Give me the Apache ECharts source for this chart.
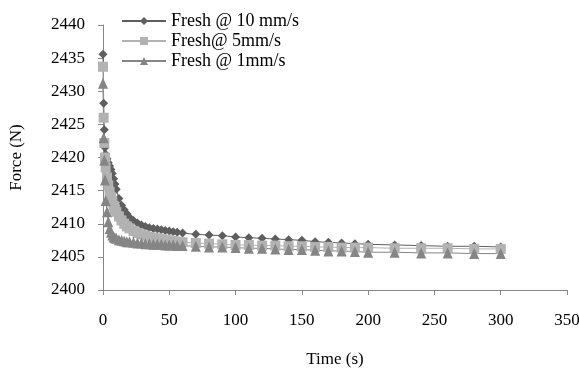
<!DOCTYPE html>
<html>
<head>
<meta charset="utf-8">
<script src="https://cdn.jsdelivr.net/npm/echarts@6/dist/echarts.min.js"></script>
<style>
  html, body { margin: 0; padding: 0; background: #fff; }
  #chart { width: 579px; height: 368px; }
</style>
</head>
<body>
<div id="chart"></div>
<script>
// sample times (s), shared by all three tests
const times = [0, 0.5, 1, 1.5, 2, 3, 4, 5, 6, 7, 8, 9, 10, 12, 14, 16, 18, 20, 23, 26, 29, 32, 35, 38, 41, 44, 47, 50, 53, 56, 60,
  70, 80, 90, 100, 110, 120, 130, 140, 150, 160, 170, 180, 190, 200, 220, 240, 260, 280, 300];

const fresh10 = [2435.6, 2428.2, 2424.2, 2421.5, 2420.5, 2419.8, 2419.2, 2418.7, 2418.2, 2417.6, 2416.8, 2416.0, 2415.2, 2413.8, 2412.8, 2412.1, 2411.5, 2411.0, 2410.5, 2410.1, 2409.8, 2409.6, 2409.4, 2409.3, 2409.2, 2409.1, 2409.0, 2408.9, 2408.8, 2408.7, 2408.6,
  2408.4, 2408.3, 2408.2, 2408.0, 2407.9, 2407.8, 2407.7, 2407.6, 2407.5, 2407.3, 2407.2, 2407.1, 2407.0, 2406.9, 2406.8, 2406.7, 2406.6, 2406.6, 2406.5];

const fresh5 = [2433.7, 2426.0, 2422.2, 2420.0, 2418.5, 2417.0, 2415.8, 2414.8, 2414.0, 2413.3, 2412.7, 2412.2, 2411.8, 2411.1, 2410.5, 2410.0, 2409.6, 2409.3, 2408.9, 2408.6, 2408.4, 2408.2, 2408.0, 2407.9, 2407.8, 2407.7, 2407.6, 2407.5, 2407.4, 2407.3, 2407.2,
  2407.1, 2407.0, 2406.9, 2406.8, 2406.8, 2406.7, 2406.7, 2406.6, 2406.6, 2406.5, 2406.5, 2406.4, 2406.4, 2406.4, 2406.3, 2406.3, 2406.3, 2406.2, 2406.2];

const fresh1 = [2431.2, 2423.0, 2419.6, 2416.6, 2413.5, 2411.8, 2410.3, 2409.3, 2408.7, 2408.3, 2408.0, 2407.9, 2407.8, 2407.6, 2407.5, 2407.4, 2407.3, 2407.3, 2407.2, 2407.1, 2407.1, 2407.0, 2407.0, 2406.9, 2406.9, 2406.9, 2406.8, 2406.8, 2406.8, 2406.7, 2406.7,
  2406.6, 2406.5, 2406.5, 2406.4, 2406.3, 2406.3, 2406.2, 2406.1, 2406.1, 2406.0, 2405.9, 2405.9, 2405.8, 2405.7, 2405.7, 2405.6, 2405.6, 2405.5, 2405.5];

const pairs = vals => times.map((t, i) => [t, vals[i]]);

const font = "'Liberation Serif', 'DejaVu Serif', serif";
const chart = echarts.init(document.getElementById("chart"));

const option = {
  animation: false,
  textStyle: { fontFamily: font },
  grid: { left: 103, right: 12, top: 25, bottom: 78, outerBoundsMode: "none" },
  legend: {
    orient: "vertical",
    left: 116,
    top: 7,
    itemWidth: 44,
    itemHeight: 10,
    itemGap: 2,
    textStyle: { fontFamily: font, fontSize: 18, color: "#000" },
    data: ["Fresh @ 10 mm/s", "Fresh@ 5mm/s", "Fresh @ 1mm/s"],
  },
  xAxis: {
    type: "value",
    min: 0,
    max: 350,
    interval: 50,
    name: "Time (s)",
    nameLocation: "middle",
    nameGap: 61,
    nameTextStyle: { fontFamily: font, fontSize: 17, color: "#000" },
    axisLine: { show: true, lineStyle: { color: "#888", width: 1 } },
    axisTick: { show: true, length: 5, lineStyle: { color: "#888" } },
    axisLabel: { margin: 22, fontFamily: font, fontSize: 17, color: "#000" },
    splitLine: { show: false },
  },
  yAxis: {
    type: "value",
    min: 2400,
    max: 2440,
    interval: 5,
    name: "Force (N)",
    nameLocation: "middle",
    nameRotate: 90,
    nameGap: 78,
    nameTextStyle: { fontFamily: font, fontSize: 17, color: "#000" },
    axisLine: { show: true, lineStyle: { color: "#888", width: 1 } },
    axisTick: { show: true, length: 5, lineStyle: { color: "#888" } },
    axisLabel: { margin: 18, fontFamily: font, fontSize: 17, color: "#000", formatter: v => String(v) },
    splitLine: { show: false },
  },
  series: [
    {
      name: "Fresh @ 10 mm/s",
      type: "line",
      data: pairs(fresh10),
      symbol: "diamond",
      symbolSize: 9,
      showAllSymbol: true,
      itemStyle: { color: "#5e5e5e" },
      lineStyle: { color: "#5e5e5e", width: 1 },
    },
    {
      name: "Fresh@ 5mm/s",
      type: "line",
      data: pairs(fresh5),
      symbol: "rect",
      symbolSize: 10,
      showAllSymbol: true,
      itemStyle: { color: "#b2b2b2" },
      lineStyle: { color: "#b2b2b2", width: 1 },
    },
    {
      name: "Fresh @ 1mm/s",
      type: "line",
      data: pairs(fresh1),
      symbol: "triangle",
      symbolSize: [10, 11],
      showAllSymbol: true,
      itemStyle: { color: "#858585" },
      lineStyle: { color: "#858585", width: 1 },
    },
  ],
};

chart.setOption(option);
</script>
</body>
</html>
